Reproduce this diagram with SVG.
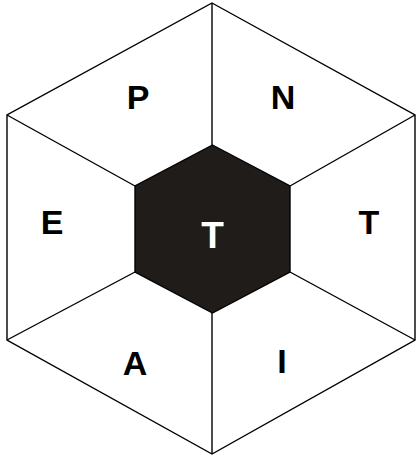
<svg xmlns="http://www.w3.org/2000/svg" width="417" height="456" viewBox="0 0 417 456">
<style>
.ln{stroke:#000;stroke-width:1.4;fill:none;stroke-linejoin:miter}
.lbl{font-family:"Liberation Sans",Arial,sans-serif;font-weight:bold;font-size:34px;text-anchor:middle;fill:#000}
</style>
<rect width="417" height="456" fill="#fff"/>
<g id="outer">
<polygon class="ln" points="212,3 415,115 415,340 212,454 7,340 7,115"/>
</g>
<g id="connectors">
<line class="ln" x1="212" y1="3" x2="212" y2="145"/>
<line class="ln" x1="212" y1="454" x2="212" y2="313"/>
<line class="ln" x1="415" y1="115" x2="290" y2="186"/>
<line class="ln" x1="415" y1="340" x2="290" y2="272"/>
<line class="ln" x1="7" y1="115" x2="135" y2="186"/>
<line class="ln" x1="7" y1="340" x2="135" y2="272"/>
</g>
<g id="center">
<polygon points="212.5,145 290,186 290,272 212.5,313 135,272 135,186" fill="#201c1a" stroke="#000" stroke-width="1.4"/>
<text class="lbl" x="212.5" y="248" style="fill:#fff;font-size:37px">T</text>
</g>
<g id="P"><text class="lbl" x="138" y="109">P</text></g>
<g id="N"><text class="lbl" x="283" y="109">N</text></g>
<g id="E"><text class="lbl" x="52" y="234">E</text></g>
<g id="T"><text class="lbl" x="369" y="234">T</text></g>
<g id="A"><text class="lbl" x="135" y="375">A</text></g>
<g id="I"><text class="lbl" x="282" y="373">I</text></g>
</svg>
